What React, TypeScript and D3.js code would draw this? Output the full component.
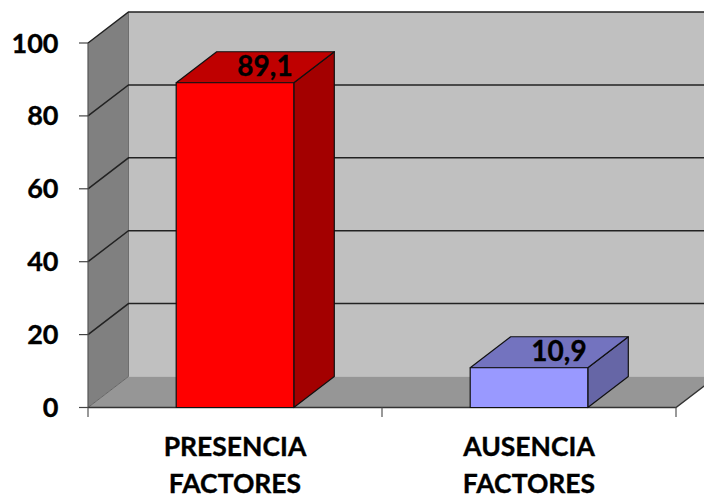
import React from "react";
import * as d3 from "d3";

const categories = ["PRESENCIA FACTORES", "AUSENCIA FACTORES"];
const values = [89.1, 10.9];
const valueLabels = ["89,1", "10,9"];
const ticks = [0, 20, 40, 60, 80, 100];
const frontColors = ["#ff0000", "#9999ff"];
const topColors = ["#bf0000", "#7373bf"];
const sideColors = ["#a30000", "#6666a6"];

const depthX = 40.5;
const depthY = 31;
const FONT = "Lato, Carlito, sans-serif";

const y = d3.scaleLinear().domain([0, 100]).range([407.5, 43]);
const x = d3.scaleBand().domain(categories).range([88, 676]).paddingInner(0.6).paddingOuter(0.3);
const tickX = d3.scaleBand().domain(categories).range([88, 676]);

const poly = (pts: [number, number][]) => (d3.line()(pts) as string) + "Z";

// the reference text is a little heavier than Lato Bold
const heavy = { stroke: "#000", strokeWidth: 0.35 };

export default function App() {
  const x0 = 88;
  const x1 = 676;
  const y0 = y(0);
  const yTop = y(100);
  return (
    <svg width={704} height={498} style={{ position: "absolute", left: 0, top: 0 }}>
      {/* back wall */}
      <path d={poly([[x0 + depthX, y0 - depthY], [x0 + depthX, yTop - depthY], [x1 + depthX, yTop - depthY], [x1 + depthX, y0 - depthY]])} fill="#c0c0c0" />
      {/* side wall */}
      <path d={poly([[x0, y0], [x0, yTop], [x0 + depthX, yTop - depthY], [x0 + depthX, y0 - depthY]])} fill="#808080" />
      {/* floor */}
      <path d={poly([[x0, y0], [x0 + depthX, y0 - depthY], [x1 + depthX, y0 - depthY], [x1, y0]])} fill="#969696" />
      <path d={`M${x0 + depthX},${y0 - depthY}V${yTop - depthY}`} stroke="#6e6e6e" strokeWidth={1} fill="none" />
      <path d={`M${x0},${y0}L${x0 + depthX},${y0 - depthY}`} stroke="#666" strokeWidth={1} fill="none" />

      {ticks.filter((t) => t > 0).map((t) => (
        <path
          key={t}
          d={`M${x0},${y(t)}L${x0 + depthX},${y(t) - depthY}H${x1 + depthX}`}
          fill="none"
          stroke="#222"
          strokeWidth={1.5}
        />
      ))}

      {/* axes */}
      <path d={`M${x0},${y0}V${yTop}`} stroke="#555" strokeWidth={1.2} />
      <path d={`M${x0},${y0}H${x1}L${x1 + depthX},${y0 - depthY}`} stroke="#333" strokeWidth={1.4} fill="none" />
      {ticks.map((t) => (
        <g key={t}>
          <line x1={79} x2={x0} y1={y(t)} y2={y(t)} stroke="#444" strokeWidth={1.2} />
          <text x={58.5} y={y(t) + 9.5} textAnchor="end" fontFamily={FONT} fontWeight={700} fontSize={27} fill="#000" {...heavy}>
            {t}
          </text>
        </g>
      ))}
      {[...categories.map((c) => tickX(c) as number), x1].map((px) => (
        <line key={px} x1={px} x2={px} y1={y0} y2={417} stroke="#555" strokeWidth={1.2} />
      ))}

      {/* bars */}
      {categories.map((c, i) => {
        const left = x(c) as number;
        const right = left + x.bandwidth();
        const top = y(values[i]);
        return (
          <g key={c} stroke="#111" strokeWidth={1.2} strokeLinejoin="round">
            <path d={poly([[right, y0], [right, top], [right + depthX, top - depthY], [right + depthX, y0 - depthY]])} fill={sideColors[i]} />
            <path d={poly([[left, top], [left + depthX, top - depthY], [right + depthX, top - depthY], [right, top]])} fill={topColors[i]} />
            <rect x={left} y={top} width={x.bandwidth()} height={y0 - top} fill={frontColors[i]} />
            <text
              x={left + x.bandwidth() / 2 + 30}
              y={top - 6.5}
              textAnchor="middle"
              fontFamily={FONT}
              fontWeight={700}
              fontSize={28}
              fill="#000"
              {...heavy}
            >
              {valueLabels[i]}
            </text>
          </g>
        );
      })}

      {/* category labels */}
      {categories.map((c) => {
        const cx = (tickX(c) as number) + tickX.bandwidth() / 2;
        return c.split(" ").map((word, j) => (
          <text
            key={word}
            x={cx}
            y={455.5 + j * 37}
            textAnchor="middle"
            fontFamily={FONT}
            fontWeight={700}
            fontSize={26.5}
            fill="#000"
            {...heavy}
          >
            {word}
          </text>
        ));
      })}
    </svg>
  );
}
